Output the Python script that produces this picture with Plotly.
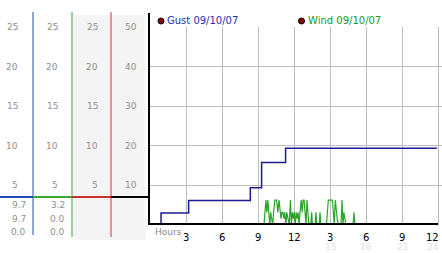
import plotly.graph_objects as go

W, H = 442, 253

# ---- data ----
gust_hours = [0, 0.92, 3.22, 8.36, 9.30, 11.30, 23.9]
gust_vals = [0, 3.0, 6.2, 9.4, 15.8, 19.4, 19.4]

wind_hours = [0, 9.50, 9.58, 9.66, 9.74, 9.82, 9.90, 9.98, 10.06, 10.14, 10.22, 10.30, 10.40, 10.55,
              10.65, 10.75, 10.83, 10.92, 11.00, 11.08, 11.16, 11.24, 11.32, 11.40, 11.50, 11.60,
              11.70, 11.78, 11.86, 11.94, 12.02, 12.10, 12.18, 12.26, 12.34, 12.42, 12.50, 12.60,
              12.68, 12.76, 12.84, 12.92, 13.00, 13.08, 13.16, 13.24, 13.40, 13.47, 13.54, 13.76,
              13.83, 13.90, 14.10, 14.17, 14.24, 14.70, 14.78, 14.86, 15.20, 15.28, 15.36, 15.44,
              15.52, 15.60, 15.68, 15.92, 16.00, 16.08, 16.16, 16.24, 16.32, 16.92, 17.00, 17.08, 23.9]
wind_vals = [0, 0, 3.2, 6.3, 3.2, 6.3, 3.2, 0, 3.2, 1.6, 0, 3.2, 6.3, 6.3,
             3.2, 6.3, 3.2, 1.6, 3.2, 3.2, 1.6, 3.2, 0, 3.2, 1.6, 0,
             6.3, 0, 3.2, 1.6, 3.2, 0, 3.2, 1.6, 3.2, 0, 3.2, 6.3,
             3.2, 6.3, 6.3, 3.2, 0, 6.3, 3.2, 0, 0, 3.2, 0, 0,
             3.2, 0, 0, 3.2, 0, 0, 3.2, 6.3, 6.3, 3.2, 0, 6.3,
             3.2, 1.6, 0, 0, 6.3, 0, 3.2, 1.6, 0, 0, 3.2, 0, 0]

x_tick_hours = [3, 6, 9, 12, 15, 18, 21, 24]
x_tick_labels = ["3", "6", "9", "12", "3", "6", "9", "12"]
x_faint_hours = [15, 18, 21, 24]
x_faint_labels = ["15", "18", "21", "24"]
y_main_ticks = [10, 20, 30, 40, 50]
y_side_ticks = [5, 10, 15, 20, 25]
col1_values = ["9.7", "9.7", "0.0"]
col2_values = ["3.2", "0.0", "0.0"]
legend_labels = ["Gust 09/10/07", "Wind 09/10/07"]

GUST_C = "#1c1c8c"
WIND_C = "#2aa52a"
BLUE = "#2448b8"
GREEN = "#35a835"
RED = "#c83030"
FONT = "DejaVu Sans"


def px(x):
    return x / W


def py(y):
    return 1 - y / H


fig = go.Figure()

fig.add_trace(go.Scatter(x=wind_hours, y=wind_vals, mode="lines",
                         line=dict(color=WIND_C, width=1.2), cliponaxis=False,
                         hoverinfo="skip"))
fig.add_trace(go.Scatter(x=gust_hours, y=gust_vals, mode="lines",
                         line=dict(color=GUST_C, width=1.5, shape="hv"), cliponaxis=False,
                         hoverinfo="skip"))

# tick glyph marks
fig.add_trace(go.Scatter(x=[-0.33] * len(y_main_ticks), y=y_main_ticks, mode="markers",
                         marker=dict(symbol="x-thin", size=4, line=dict(color="#000", width=1)),
                         cliponaxis=False, hoverinfo="skip"))
fig.add_trace(go.Scatter(x=x_tick_hours, y=[-1.3] * len(x_tick_hours), mode="markers",
                         marker=dict(symbol="x-thin", size=4, line=dict(color="#000", width=1)),
                         cliponaxis=False, hoverinfo="skip"))

shapes = []
# gray background columns
shapes.append(dict(type="rect", xref="paper", yref="paper", x0=px(73), x1=px(145.5),
                   y0=py(240), y1=py(15), fillcolor="#f4f4f4", line=dict(width=0), layer="below"))
# column lines
for x, c, y1 in [(33, BLUE, 235), (72, GREEN, 237), (111, RED, 237)]:
    shapes.append(dict(type="line", xref="paper", yref="paper", x0=px(x), x1=px(x),
                       y0=py(12), y1=py(y1), line=dict(color=c, width=1)))
# divider
for x0, x1, c in [(0, 33, BLUE), (33, 72, GREEN), (72, 111, RED), (111, 149, "#000")]:
    shapes.append(dict(type="line", xref="paper", yref="paper", x0=px(x0), x1=px(x1),
                       y0=py(197), y1=py(197), line=dict(color=c, width=2)))
# main axes lines
shapes.append(dict(type="line", xref="paper", yref="paper", x0=px(149), x1=px(149),
                   y0=py(13), y1=py(225), line=dict(color="#000", width=2)))
shapes.append(dict(type="line", xref="paper", yref="paper", x0=px(148), x1=px(438),
                   y0=py(224), y1=py(224), line=dict(color="#000", width=2)))
# legend dots
for cx in [161, 301.5]:
    shapes.append(dict(type="circle", xref="paper", yref="paper", x0=px(cx - 3), x1=px(cx + 3),
                       y0=py(24), y1=py(18), fillcolor="#8b0000", line=dict(color="#000", width=1)))

ann = []
# side tick labels
for v in y_side_ticks:
    for xr in [20, 60, 99.5]:
        ann.append(dict(x=px(xr), y=2 * v, xref="paper", yref="y", text=str(v), showarrow=False,
                        xanchor="right", yanchor="middle", font=dict(family=FONT, size=9, color="#909090")))
for v in y_main_ticks:
    ann.append(dict(x=px(139), y=v, xref="paper", yref="y", text=str(v), showarrow=False,
                    xanchor="right", yanchor="middle", font=dict(family=FONT, size=9, color="#909090")))
# current values
for i, (a, b) in enumerate(zip(col1_values, col2_values)):
    yy = [205, 218.5, 232][i]
    ann.append(dict(x=px(27.5), y=py(yy), xref="paper", yref="paper", text=a, showarrow=False,
                    xanchor="right", yanchor="middle", font=dict(family=FONT, size=9, color="#909090")))
    ann.append(dict(x=px(67), y=py(yy), xref="paper", yref="paper", text=b, showarrow=False,
                    xanchor="right", yanchor="middle", font=dict(family=FONT, size=9, color="#909090")))
# x tick labels
for h, t in zip(x_tick_hours, x_tick_labels):
    last = h == x_tick_hours[-1]
    ann.append(dict(x=px(441) if last else h, y=py(237.5), xref="paper" if last else "x", yref="paper",
                    text=t, showarrow=False, xanchor="right" if last else "center", yanchor="middle",
                    font=dict(family=FONT, size=10, color="#000")))
for h, t in zip(x_faint_hours, x_faint_labels):
    last = h == x_faint_hours[-1]
    ann.append(dict(x=px(441) if last else h, y=py(247), xref="paper" if last else "x", yref="paper",
                    text=t, showarrow=False, xanchor="right" if last else "center", yanchor="middle",
                    font=dict(family=FONT, size=9, color="#e2e2e2")))
ann.append(dict(x=px(153), y=py(232), xref="paper", yref="paper", text="Hours", showarrow=False,
                xanchor="left", yanchor="middle", font=dict(family=FONT, size=9, color="#8a8a8a")))
# legend texts
ann.append(dict(x=px(165), y=py(21), xref="paper", yref="paper", text=legend_labels[0], showarrow=False,
                xanchor="left", yanchor="middle", font=dict(family=FONT, size=10, color="#2233aa")))
ann.append(dict(x=px(305.5), y=py(21), xref="paper", yref="paper", text=legend_labels[1], showarrow=False,
                xanchor="left", yanchor="middle", font=dict(family=FONT, size=10, color="#229922")))

fig.update_layout(
    width=W, height=H, margin=dict(l=0, r=0, t=0, b=0),
    paper_bgcolor="white", plot_bgcolor="white", showlegend=False,
    shapes=shapes, annotations=ann,
    xaxis=dict(domain=[150 / W, 1], range=[0, 292 / 12], dtick=3, tick0=0, showgrid=True,
               gridcolor="#bdbdbd", gridwidth=1, showticklabels=False, zeroline=False,
               showline=False, ticks=""),
    yaxis=dict(domain=[28 / H, 226 / H], range=[0, 50], dtick=10, tick0=0, showgrid=True,
               gridcolor="#bdbdbd", gridwidth=1, showticklabels=False, zeroline=False,
               showline=False, ticks=""),
)

fig.write_html("out.html")
